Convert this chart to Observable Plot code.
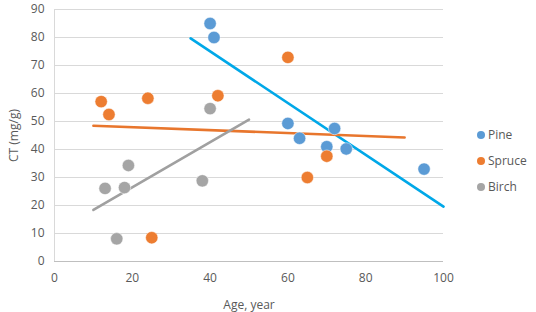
<!DOCTYPE html>
<html>
<head>
<meta charset="utf-8">
<script src="https://cdn.jsdelivr.net/npm/d3@7"></script>
<script src="https://cdn.jsdelivr.net/npm/@observablehq/plot@0.6"></script>
<style>
  html, body { margin: 0; padding: 0; background: #fff; }
  #wrap { position: relative; width: 536px; height: 312px; font-family: "Open Sans", sans-serif; }
  #legend { position: absolute; left: 477px; top: 122px; font-size: 12px; color: #595959; }
  #legend div { height: 26px; line-height: 18px; display: flex; align-items: center; }
  #legend span.dot { display: inline-block; width: 8px; height: 8px; border-radius: 50%; margin-right: 3px; }
</style>
</head>
<body>
<div id="wrap"><div id="legend"></div></div>
<script>
const seriesNames = ["Pine", "Spruce", "Birch"];
const dotColors = ["#5B9BD5", "#ED7D31", "#A5A5A5"];
const trendColors = ["#00A8E8", "#E8762D", "#A0A0A0"];

const pineAge = [40, 41, 60, 63, 70, 72, 75, 95];
const pineCT  = [85, 80, 49.3, 44, 41, 47.5, 40.2, 33];
const spruceAge = [12, 14, 24, 42, 60, 70, 65, 25];
const spruceCT  = [57.1, 52.5, 58.3, 59.2, 72.9, 37.6, 30, 8.5];
const birchAge = [40, 19, 13, 18, 38, 16];
const birchCT  = [54.6, 34.3, 26.1, 26.4, 28.8, 8.1];

// trendline end points
const pineTrendAge = [35, 100];
const pineTrendCT  = [79.7, 19.6];
const spruceTrendAge = [10, 90];
const spruceTrendCT  = [48.5, 44.3];
const birchTrendAge = [10, 50];
const birchTrendCT  = [18.4, 50.7];

const xTicks = [0, 20, 40, 60, 80, 100];
const yTicks = [0, 10, 20, 30, 40, 50, 60, 70, 80, 90];

const pts = [];
[[pineAge, pineCT], [spruceAge, spruceCT], [birchAge, birchCT]].forEach(([a, c], i) => {
  a.forEach((v, j) => pts.push({ age: v, ct: c[j], s: seriesNames[i] }));
});
const trends = [];
[[pineTrendAge, pineTrendCT], [spruceTrendAge, spruceTrendCT], [birchTrendAge, birchTrendCT]].forEach(([a, c], i) => {
  a.forEach((v, j) => trends.push({ age: v, ct: c[j], s: seriesNames[i] }));
});

const chart = Plot.plot({
  width: 536, height: 312,
  marginLeft: 54, marginRight: 93, marginTop: 9, marginBottom: 51,
  style: { fontFamily: "Open Sans, sans-serif", fontSize: "12px", color: "#595959", background: "#fff" },
  x: { domain: [0, 100] },
  y: { domain: [0, 90] },
  color: { domain: seriesNames, range: dotColors },
  marks: [
    Plot.gridY(yTicks.slice(1), { stroke: "#d9d9d9", strokeOpacity: 1 }),
    Plot.ruleY([0], { stroke: "#bfbfbf" }),
    Plot.ruleX([0], { stroke: "#d9d9d9" }),
    Plot.axisX(xTicks, { tickSize: 0, tickPadding: 12, label: "Age, year", labelAnchor: "center", labelArrow: "none", labelOffset: 47, fill: "#595959" }),
    Plot.axisY(yTicks, { tickSize: 0, tickPadding: 10, label: "CT (mg/g)", labelAnchor: "center", labelArrow: "none", labelOffset: 45, fill: "#595959" }),
    ...seriesNames.map((n, i) => Plot.line(trends.filter(d => d.s === n), { x: "age", y: "ct", stroke: trendColors[i], strokeWidth: 2.6 })),
    Plot.dot(pts, { x: "age", y: "ct", r: 6.2, fill: "s", stroke: "white", strokeWidth: 0.5 })
  ]
});
document.getElementById("wrap").prepend(chart);

const legend = document.getElementById("legend");
seriesNames.forEach((n, i) => {
  const row = document.createElement("div");
  const dot = document.createElement("span");
  dot.className = "dot";
  dot.style.background = dotColors[i];
  row.appendChild(dot);
  row.appendChild(document.createTextNode(n));
  legend.appendChild(row);
});
</script>
</body>
</html>
